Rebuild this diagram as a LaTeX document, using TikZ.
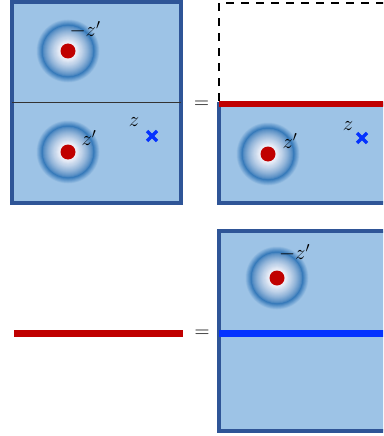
\documentclass[tikz,border=0pt]{standalone}
\definecolor{bgblue}{RGB}{157,195,230}
\definecolor{edgeblue}{RGB}{47,85,151}
\definecolor{ringblue}{RGB}{52,120,185}
\definecolor{coreblue}{RGB}{240,242,250}
\definecolor{dotred}{RGB}{192,0,0}
\definecolor{lineblue}{RGB}{4,50,255}
\tikzset{
  panel/.style={fill=bgblue, draw=edgeblue, line width=4pt},
  lbl/.style={inner sep=0pt, font=\fontsize{20}{24}\selectfont},
  redbar/.style={draw=dotred, line width=6.5pt},
  bluebar/.style={draw=lineblue, line width=6.5pt},
  crossline/.style={draw=lineblue, line width=3.2pt},
}
\newcommand\myblob[1]{%
  \foreach \r in {32,31.5,...,6}{%
    \pgfmathtruncatemacro\aa{\r>26 ? max(0,min(100,(32-\r)/6*100)) : 100}%
    \pgfmathtruncatemacro\bb{\r>26 ? 0 : max(0,min(100,100*(max(0.001,(26-\r)/18))^0.7))}%
    \fill[coreblue!\bb!ringblue!\aa!bgblue] (#1) circle (\r pt);
  }%
  \fill[dotred] (#1) circle (7.5pt);
}
\newcommand\mycross[1]{%
  \draw[crossline] ($(#1)+(-5,-5)$) -- ($(#1)+(5,5)$);
  \draw[crossline] ($(#1)+(-5,5)$) -- ($(#1)+(5,-5)$);
}
\usetikzlibrary{calc}
\begin{document}
\begin{tikzpicture}[x=1pt,y=-1pt]
\useasboundingbox (0,0) rectangle (383,436);
\clip (0,0) rectangle (383,436);
% top-left panel
\draw[panel] (11.5,2.5) rectangle (181,202.5);
\coordinate (c1) at (68,51);
\coordinate (c2) at (68,152);
\myblob{c1}
\myblob{c2}
\draw[black!80, line width=1pt] (12,102.5) -- (181,102.5);
\node[lbl] (l1) at (85,30) {$-z'$};
\node[lbl] (l2) at (89,138) {$z'$};
\node[lbl] (l3) at (134,122) {$z$};
\coordinate (x1) at (152,136);
\mycross{x1}
\node[lbl] (eq1) at (201.5,105) {$=$};
% top-right panel
\draw[black, line width=1.8pt, dash pattern=on 8pt off 7pt] (219,101) -- (219,3) -- (390,3);
\draw[panel] (219,104) rectangle (400,202.5);
\draw[redbar] (219,104) -- (400,104);
\coordinate (c3) at (268,154);
\myblob{c3}
\node[lbl] (l4) at (290,141) {$z'$};
\node[lbl] (l5) at (348,126) {$z$};
\coordinate (x2) at (362,138);
\mycross{x2}
% bottom-left
\coordinate (r1) at (14,333.5);
\coordinate (r2) at (183,333.5);
\draw[redbar] (r1) -- (r2);
\node[lbl] (eq2) at (202,334) {$=$};
% bottom-right panel
\draw[panel] (219,230.5) rectangle (400,430.5);
\coordinate (c4) at (277,278);
\myblob{c4}
\node[lbl] (l6) at (294.5,253) {$-z'$};
\draw[bluebar] (219,333.5) -- (400,333.5);
\end{tikzpicture}
\end{document}
